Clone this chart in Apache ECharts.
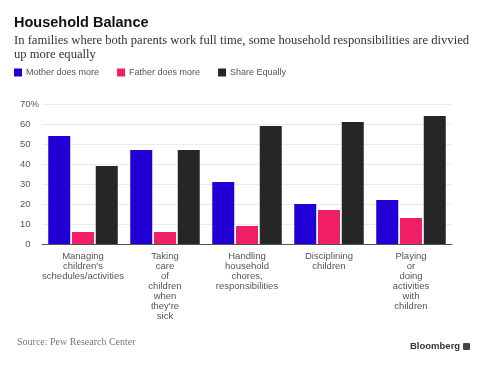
<!DOCTYPE html>
<html><head><meta charset="utf-8">
<script src="https://cdn.jsdelivr.net/npm/echarts@6/dist/echarts.min.js"></script>
<style>html,body{margin:0;padding:0;background:#fff}#c{width:488px;height:368px}</style>
</head><body><div id="c"></div>
<script>
const categories = [
  "Managing\nchildren's\nschedules/activities",
  "Taking\ncare\nof\nchildren\nwhen\nthey're\nsick",
  "Handling\nhousehold\nchores,\nresponsibilities",
  "Disciplining\nchildren",
  "Playing\nor\ndoing\nactivities\nwith\nchildren"
];
const seriesNames = ["Mother does more", "Father does more", "Share Equally"];
const motherMore = [54, 47, 31, 20, 22];
const fatherMore = [6, 6, 9, 17, 13];
const shareEqually = [39, 47, 59, 61, 64];
const yTicks = [0, 10, 20, 30, 40, 50, 60, 70];
const colors = ["#2100d6", "#f01e66", "#262626"];

const chart = echarts.init(document.getElementById('c'), null, {renderer: 'canvas'});
const mk = (name, data, color) => ({
  name, type: 'bar', data, barWidth: 22, barGap: '8%',
  itemStyle: {color}, emphasis: {disabled: true}
});
chart.setOption({
  animation: false,
  backgroundColor: '#fff',
  title: [{
    text: 'Household Balance', left: 9, top: 10,
    textStyle: {fontFamily: 'Liberation Sans, Arial, sans-serif', fontWeight: 'bold', fontSize: 14.5, color: '#111'}
  }, {
    text: 'In families where both parents work full time, some household responsibilities are divvied\nup more equally',
    left: 9, top: 29,
    textStyle: {fontFamily: 'Liberation Serif, serif', fontWeight: 'normal', fontSize: 12.6, lineHeight: 13.5, color: '#333'}
  }, {
    text: 'Source: Pew Research Center', left: 12, top: 332,
    textStyle: {fontFamily: 'Liberation Serif, serif', fontWeight: 'normal', fontSize: 10, color: '#777'}
  }, {
    text: 'Bloomberg', left: 405, top: 336,
    textStyle: {fontFamily: 'Liberation Sans, Arial, sans-serif', fontWeight: 'bold', fontSize: 9.5, color: '#333'}
  }],
  graphic: [{
    type: 'rect', left: 463, top: 343, shape: {width: 7, height: 7, r: 1},
    style: {fill: '#444'}
  }],
  legend: {
    left: 9, top: 63, itemWidth: 8, itemHeight: 8, itemGap: 18,
    icon: 'rect', selectedMode: false,
    textStyle: {fontFamily: 'Liberation Sans, Arial, sans-serif', fontSize: 9, color: '#555', padding: [0, 0, 0, -1]},
    data: seriesNames
  },
  grid: {left: 42, right: 36, top: 104, bottom: 124, containLabel: false},
  xAxis: {
    type: 'category', data: categories,
    axisLine: {lineStyle: {color: '#555', width: 1}},
    axisTick: {alignWithLabel: true, length: 4, lineStyle: {color: '#555'}},
    axisLabel: {interval: 0, margin: 7, fontFamily: 'Liberation Sans, Arial, sans-serif', fontSize: 9.5, lineHeight: 10, color: '#555'}
  },
  yAxis: {
    type: 'value', min: 0, max: 70, interval: 10,
    axisLine: {show: false}, axisTick: {show: false},
    splitLine: {lineStyle: {color: '#ebebeb', width: 1}},
    axisLabel: {
      margin: 3, fontFamily: 'Liberation Sans, Arial, sans-serif', fontSize: 9.5, color: '#555',
      formatter: v => v === yTicks[yTicks.length - 1] ? v + '{p|%}' : v + '{h|%}',
      rich: {p: {fontSize: 9.5, color: '#555'}, h: {fontSize: 9.5, color: 'rgba(0,0,0,0)'}}
    }
  },
  series: [mk(seriesNames[0], motherMore, colors[0]), mk(seriesNames[1], fatherMore, colors[1]), mk(seriesNames[2], shareEqually, colors[2])]
});
</script></body></html>
